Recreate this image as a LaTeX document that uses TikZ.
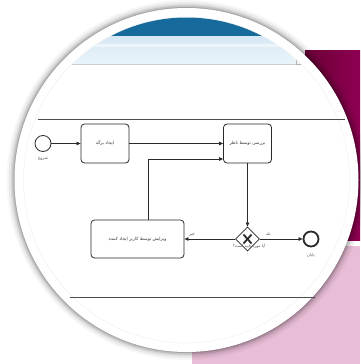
\documentclass[tikz,border=0pt]{standalone}
\usepackage{fontspec}
\newfontfamily\arabicfont[Script=Arabic]{DejaVu Sans}
\TeXXeTstate=1
\usetikzlibrary{shapes.geometric,arrows.meta}
\definecolor{maroonA}{HTML}{6A0036}
\definecolor{maroonB}{HTML}{8E0052}
\definecolor{pinkbg}{HTML}{E8BDD6}
\definecolor{headblue}{HTML}{176A9C}
\definecolor{barA}{HTML}{D6E8F4}
\definecolor{barB}{HTML}{EAF4FA}
\definecolor{linec}{HTML}{2A2A2A}
\tikzset{
  task/.style={draw=linec, line width=0.8pt, rounded corners=3.5pt, fill=white, inner sep=0pt,
    font=\arabicfont\fontsize{4.4}{5.5}\selectfont, text=black!80},
  flow/.style={draw=linec, line width=0.7pt, -{Triangle[length=4pt,width=3.5pt]}},
  lbl/.style={font=\arabicfont\fontsize{4}{5}\selectfont, text=black!70, inner sep=0pt},
  lane/.style={draw=black!70, line width=0.9pt}
}
\begin{document}
\begin{tikzpicture}[x=1pt,y=-1pt]
\useasboundingbox (0,0) rectangle (360,364);
% background
\fill[white] (0,0) rectangle (360,364);
\shade[left color=maroonA, right color=maroonB] (305,50) rectangle (360,240);
\fill[pinkbg] (192,246) rectangle (360,364);
% circle shadow
\foreach \r/\o in {180/0.03,178/0.05,176/0.07,174.5/0.10,173/0.14}{
  \fill[black, opacity=\o] (186.5,180) circle[radius=\r];
}
\fill[white] (186.5,180) circle[radius=172];
\draw[black!8, line width=0.3pt] (186.5,180) circle[radius=163];
% screenshot header
\begin{scope}
  \clip (186.5,180) circle[radius=162.5];
  \fill[headblue] (0,0) rectangle (360,36);
  \shade[top color=barA, bottom color=barB] (0,36) rectangle (297,64);
  \fill[white, opacity=0.5] (0,44) rectangle (297,47);
  \draw[black!20, line width=0.4pt] (0,64.5) -- (297,64.5);
  \draw[black!30, line width=0.4pt, fill=barB] (296,53) rectangle (303,64);
\end{scope}
% lanes
\coordinate (lt1) at (38,119);
\coordinate (lt2) at (345,119);
\coordinate (lb1) at (70,297);
\coordinate (lb2) at (315,297);
\draw[lane] (lt1) -- (lt2);
\draw[lane] (lb1) -- (lb2);
% nodes
\node[circle, draw=linec, line width=0.8pt, minimum size=16pt, inner sep=0pt] (start) at (43,143.5) {};
\node[lbl] (startl) at (43,159) {\beginR شروع\endR};
\node[task, minimum width=48pt, minimum height=39pt] (t1) at (105,143.5) {\beginR ایجاد برگه\endR};
\node[task, minimum width=48pt, minimum height=39pt] (t2) at (247.5,143.5) {\beginR بررسی توسط ناظر\endR};
\node[task, minimum width=93pt, minimum height=38pt] (t3) at (137.5,239) {\beginR ویرایش توسط کاربر ایجاد کننده\endR};
\node[diamond, draw=linec, line width=0.8pt, minimum size=24pt, inner sep=0pt, fill=white] (gw) at (247.5,239) {};
\draw[linec, line width=1.8pt] ([shift={(-4,-4.5)}]gw.center) -- ([shift={(4,4.5)}]gw.center);
\draw[linec, line width=1.8pt] ([shift={(4,-4.5)}]gw.center) -- ([shift={(-4,4.5)}]gw.center);
\node[lbl] (gwl) at (249,246.5) {\beginR آیا مورد تایید است؟\endR};
\node[circle, draw=linec, line width=1.8pt, minimum size=15pt, inner sep=0pt] (end) at (311,239) {};
\node[lbl] (endl) at (311,255.5) {\beginR پایان\endR};
% flows
\coordinate (c1) at (148,159);
\draw[flow] (start) -- (t1);
\draw[flow] (t1) -- (t2);
\draw[flow] (t3.north -| c1) -- (c1) -- (c1 -| t2.west);
\draw[flow] (t2.south) -- (gw.north);
\draw[flow] (gw.west) -- (t3.east) node[lbl, pos=0.85, above=2.5pt] (nol) {\beginR خیر\endR};
\draw[flow] (gw.east) -- (end.west) node[lbl, pos=0.2, above=2.5pt] (yesl) {\beginR بله\endR};
\end{tikzpicture}
\end{document}
